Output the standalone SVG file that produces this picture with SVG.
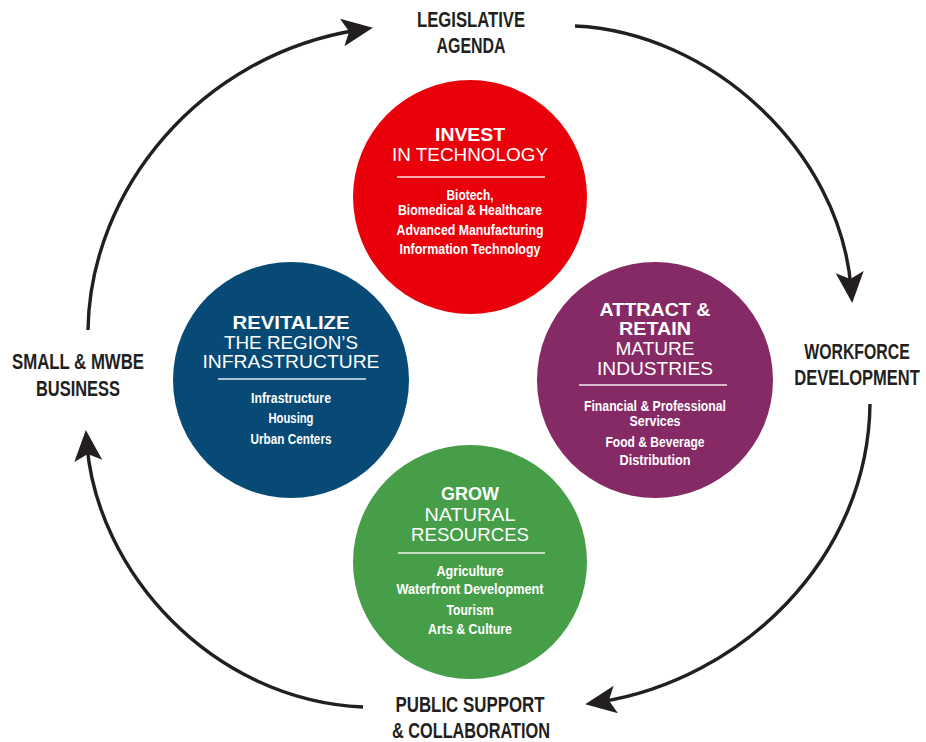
<svg xmlns="http://www.w3.org/2000/svg" width="926" height="742" viewBox="0 0 926 742">
<defs>
<style>
text{font-family:"Liberation Sans","DejaVu Sans",Arial,sans-serif;text-anchor:middle}
.out{font-size:22px;font-weight:bold;fill:#231f20}
.tb{font-size:19px;font-weight:bold;fill:#fff}
.tn{font-size:19px;font-weight:normal;fill:#fff}
.it{font-size:14px;font-weight:bold;fill:#fff}
.div{stroke:#fff;stroke-width:1.3;opacity:0.9}
.arc{fill:none;stroke:#231f20;stroke-width:3.4;marker-end:url(#ah)}
</style>
<marker id="ah" markerUnits="userSpaceOnUse" markerWidth="32" markerHeight="30" viewBox="0 0 32 30" refX="16" refY="14" orient="auto">
<path d="M31,14 L0,0 L7,14 L0,28 Z" fill="#231f20"/>
</marker>
</defs>
<rect width="926" height="742" fill="#fff"/>

<g id="connectors">
<path class="arc" d="M88,330 C90,190 200,55 358,30"/>
<path class="arc" d="M575,26 C710,32 840,150 851,288"/>
<path class="arc" d="M870,404 C868,560 740,680 600,702"/>
<path class="arc" d="M363,707 C210,700 97,570 87,445"/>
</g>

<g id="legislative">
<text class="out" x="471" y="27" textLength="108" lengthAdjust="spacingAndGlyphs">LEGISLATIVE</text>
<text class="out" x="471" y="53" textLength="69" lengthAdjust="spacingAndGlyphs">AGENDA</text>
</g>
<g id="workforce">
<text class="out" transform="translate(857,359) scale(0.72,1)" x="0" y="0">WORKFORCE</text>
<text class="out" transform="translate(857,385) scale(0.75,1)" x="0" y="0">DEVELOPMENT</text>
</g>
<g id="public">
<text class="out" x="470" y="712" textLength="149" lengthAdjust="spacingAndGlyphs">PUBLIC SUPPORT</text>
<text class="out" x="471" y="738" textLength="158" lengthAdjust="spacingAndGlyphs">&amp; COLLABORATION</text>
</g>
<g id="small">
<text class="out" x="78" y="369" textLength="132" lengthAdjust="spacingAndGlyphs">SMALL &amp; MWBE</text>
<text class="out" x="78" y="396" textLength="84" lengthAdjust="spacingAndGlyphs">BUSINESS</text>
</g>

<g id="invest">
<circle cx="470" cy="197" r="117" fill="#e9000a"/>
<text class="tb" x="470" y="141" textLength="70" lengthAdjust="spacingAndGlyphs">INVEST</text>
<text class="tn" x="470" y="161" textLength="156" lengthAdjust="spacingAndGlyphs">IN TECHNOLOGY</text>
<line class="div" x1="397" y1="177" x2="545" y2="177"/>
<text class="it" x="470" y="200" textLength="47" lengthAdjust="spacingAndGlyphs">Biotech,</text>
<text class="it" x="470" y="215" textLength="144" lengthAdjust="spacingAndGlyphs">Biomedical &amp; Healthcare</text>
<text class="it" x="470" y="235" textLength="147" lengthAdjust="spacingAndGlyphs">Advanced Manufacturing</text>
<text class="it" x="470" y="254" textLength="141" lengthAdjust="spacingAndGlyphs">Information Technology</text>
</g>

<g id="attract">
<circle cx="655" cy="380" r="118" fill="#862a65"/>
<text class="tb" x="655" y="316" textLength="111" lengthAdjust="spacingAndGlyphs">ATTRACT &amp;</text>
<text class="tb" x="655" y="335" textLength="72" lengthAdjust="spacingAndGlyphs">RETAIN</text>
<text class="tn" x="655" y="355" textLength="79" lengthAdjust="spacingAndGlyphs">MATURE</text>
<text class="tn" x="655" y="375" textLength="116" lengthAdjust="spacingAndGlyphs">INDUSTRIES</text>
<line class="div" x1="579" y1="385" x2="727" y2="385"/>
<text class="it" x="655" y="411" textLength="142" lengthAdjust="spacingAndGlyphs">Financial &amp; Professional</text>
<text class="it" x="655" y="426" textLength="51" lengthAdjust="spacingAndGlyphs">Services</text>
<text class="it" x="655" y="447" textLength="99" lengthAdjust="spacingAndGlyphs">Food &amp; Beverage</text>
<text class="it" x="655" y="465" textLength="71" lengthAdjust="spacingAndGlyphs">Distribution</text>
</g>

<g id="revitalize">
<circle cx="291" cy="380" r="118" fill="#064a75"/>
<text class="tb" x="291" y="329" textLength="117" lengthAdjust="spacingAndGlyphs">REVITALIZE</text>
<text class="tn" x="291" y="349" textLength="134" lengthAdjust="spacingAndGlyphs">THE REGION’S</text>
<text class="tn" x="291" y="368" textLength="177" lengthAdjust="spacingAndGlyphs">INFRASTRUCTURE</text>
<line class="div" x1="218" y1="379" x2="366" y2="379"/>
<text class="it" x="291" y="403" textLength="80" lengthAdjust="spacingAndGlyphs">Infrastructure</text>
<text class="it" x="291" y="423" textLength="45" lengthAdjust="spacingAndGlyphs">Housing</text>
<text class="it" x="291" y="444" textLength="81" lengthAdjust="spacingAndGlyphs">Urban Centers</text>
</g>

<g id="grow">
<circle cx="470" cy="562" r="117" fill="#479e48"/>
<text class="tb" x="470" y="500" textLength="58" lengthAdjust="spacingAndGlyphs">GROW</text>
<text class="tn" x="470" y="521" textLength="91" lengthAdjust="spacingAndGlyphs">NATURAL</text>
<text class="tn" x="470" y="541" textLength="118" lengthAdjust="spacingAndGlyphs">RESOURCES</text>
<line class="div" x1="398" y1="553" x2="545" y2="553"/>
<text class="it" x="470" y="576" textLength="67" lengthAdjust="spacingAndGlyphs">Agriculture</text>
<text class="it" x="470" y="594" textLength="147" lengthAdjust="spacingAndGlyphs">Waterfront Development</text>
<text class="it" x="470" y="615" textLength="47" lengthAdjust="spacingAndGlyphs">Tourism</text>
<text class="it" x="470" y="634" textLength="84" lengthAdjust="spacingAndGlyphs">Arts &amp; Culture</text>
</g>
</svg>
